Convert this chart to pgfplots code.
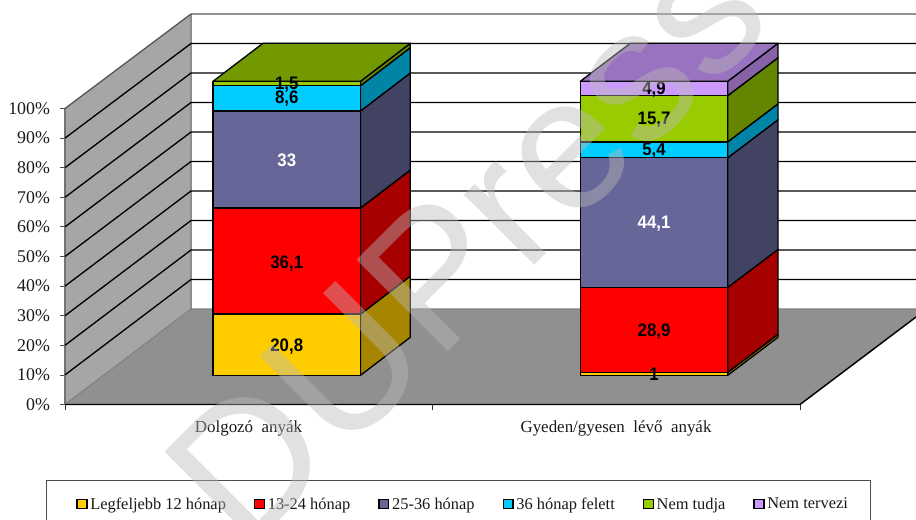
\documentclass[border=0pt]{standalone}
\usepackage{fontspec}
\setmainfont{Liberation Serif}
\newfontfamily\lsans{Liberation Sans}
\usepackage{pgfplots}
\pgfplotsset{compat=1.18}
\definecolor{yel}{HTML}{FFCC00}\definecolor{yelS}{HTML}{A68500}
\definecolor{red1}{HTML}{FF0000}\definecolor{redS}{HTML}{A60000}
\definecolor{pur}{HTML}{666699}\definecolor{purS}{HTML}{424263}
\definecolor{cya}{HTML}{00CCFF}\definecolor{cyaS}{HTML}{0085A6}
\definecolor{gre}{HTML}{99CC00}\definecolor{greS}{HTML}{638500}\definecolor{greT}{HTML}{739900}
\definecolor{lil}{HTML}{CC99FF}\definecolor{lilS}{HTML}{8563A6}\definecolor{lilT}{HTML}{9973BF}
\definecolor{wall}{HTML}{A6A6A6}\definecolor{flr}{HTML}{909090}
\pgfplotsset{base/.style={x=0.75pt,y=2.205pt,xmin=65,xmax=916,ymin=-9.93,ymax=127.65,
  enlargelimits=false,clip=false,at={(48.75pt,85.875pt)},anchor=south west}}
\newcommand{\face}[2]{\addplot[fill=#1,draw=black,line width=1pt,line join=round] coordinates {#2} -- cycle;}
\newcommand{\dlabel}[4][black]{\node[font=\lsans\bfseries\fontsize{12.6}{14}\selectfont,text=#1,inner sep=0pt,yscale=1.08] at (axis cs:#2,#3) {#4};}
\begin{document}
\begin{tikzpicture}
\useasboundingbox (0,0) rectangle (687pt,389.25pt);
\begin{axis}[base,
  axis line style={draw=none},tick pos=left,tick align=outside,
  ytick={-9.93,0.14,10.21,20.27,30.34,40.41,50.48,60.55,70.61,80.68,90.75},
  yticklabels={0\%,10\%,20\%,30\%,40\%,50\%,60\%,70\%,80\%,90\%,100\%},
  xtick={248.5,616},xticklabels={Dolgozó\ \ anyák,Gyeden/gyesen\ \ lévő\ \ anyák},
  minor xtick={65,432,800},
  major tick length=3.75pt,minor tick length=3.75pt,
  major x tick style={draw=none},minor x tick style={black!80,line width=0.6pt},
  ytick style={black!70,line width=0.6pt},
  tick label style={text=black!90},
  yticklabel style={font=\fontsize{13.4}{15}\selectfont,xshift=-4pt},
  xticklabel style={font=\fontsize{12.7}{15}\selectfont,yshift=-4.8pt},
]
% wall, floor
\addplot[fill=wall,draw=none] coordinates {(65,-9.93)(191,22.55)(191,122.89)(65,90.75)} -- cycle;
\addplot[fill=flr,draw=none] coordinates {(65,-9.93)(800,-9.93)(916,19.83)(916,22.55)(191,22.55)} -- cycle;
\addplot[black!55,line width=0.8pt] coordinates {(65,-9.93)(65,90.75)};
\addplot[black!45,line width=0.8pt] coordinates {(191,22.55)(191,122.89)};
\addplot[black!50,line width=0.8pt] coordinates {(65,-9.93)(191,22.55)(916,22.55)};
\addplot[black!65,line width=1pt] coordinates {(65,90.75)(191,122.89)(916,122.89)};
\addplot[black,line width=1.1pt] coordinates {(65,-9.93)(800,-9.93)(916,19.83)};
% grid lines
\addplot[black,line width=1pt] coordinates {(65,0.14)(191,32.58)(916,32.58)};
\addplot[black,line width=1pt] coordinates {(65,10.21)(191,42.62)(916,42.62)};
\addplot[black,line width=1pt] coordinates {(65,20.27)(191,52.65)(916,52.65)};
\addplot[black,line width=1pt] coordinates {(65,30.34)(191,62.69)(916,62.69)};
\addplot[black,line width=1pt] coordinates {(65,40.41)(191,72.72)(916,72.72)};
\addplot[black,line width=1pt] coordinates {(65,50.48)(191,82.75)(916,82.75)};
\addplot[black,line width=1pt] coordinates {(65,60.55)(191,92.79)(916,92.79)};
\addplot[black,line width=1pt] coordinates {(65,70.61)(191,102.82)(916,102.82)};
\addplot[black,line width=1pt] coordinates {(65,80.68)(191,112.86)(916,112.86)};
% bar 1 sides and top
\face{yelS}{(360.5,0)(410.3,12.93)(410.3,33.73)(360.5,20.8)}
\face{redS}{(360.5,20.8)(410.3,33.73)(410.3,69.83)(360.5,56.9)}
\face{purS}{(360.5,56.9)(410.3,69.83)(410.3,102.83)(360.5,89.9)}
\face{cyaS}{(360.5,89.9)(410.3,102.83)(410.3,111.43)(360.5,98.5)}
\face{greS}{(360.5,98.5)(410.3,111.43)(410.3,112.93)(360.5,100)}
\face{greT}{(213,100)(360.5,100)(410.3,112.93)(263,112.93)}
% bar 2 sides and top
\face{yelS}{(727.7,0)(778,12.93)(778,13.93)(727.7,1)}
\face{redS}{(727.7,1)(778,13.93)(778,42.83)(727.7,29.9)}
\face{purS}{(727.7,29.9)(778,42.83)(778,86.93)(727.7,74)}
\face{cyaS}{(727.7,74)(778,86.93)(778,92.33)(727.7,79.4)}
\face{greS}{(727.7,79.4)(778,92.33)(778,108.03)(727.7,95.1)}
\face{lilS}{(727.7,95.1)(778,108.03)(778,112.93)(727.7,100)}
\face{lilT}{(580.3,100)(727.7,100)(778,112.93)(630.3,112.93)}
\end{axis}
\begin{axis}[base,hide axis,
  ybar stacked,bar width=110.55pt,
  legend columns=6,
  legend style={at={(-0.02233,-0.18665)},anchor=north west,draw=black!70,line width=0.6pt,
    font=\fontsize{12.3}{15}\selectfont,text=black!90,inner xsep=22.5pt,inner ysep=11pt,
    /tikz/every even column/.append style={column sep=19pt}},
  legend cell align=left,
  legend image code/.code={\draw[#1,draw=black,line width=1pt] (0pt,-3.2pt) rectangle (7.4pt,3.8pt);},
]
\addplot[fill=yel,draw=black,line width=1pt] coordinates {(286.75,20.8)(654,1)};
\addplot[fill=red1,draw=black,line width=1pt] coordinates {(286.75,36.1)(654,28.9)};
\addplot[fill=pur,draw=black,line width=1pt] coordinates {(286.75,33)(654,44.1)};
\addplot[fill=cya,draw=black,line width=1pt] coordinates {(286.75,8.6)(654,5.4)};
\addplot[fill=gre,draw=black,line width=1pt] coordinates {(286.75,1.5)(654,15.7)};
\addplot[fill=lil,draw=black,line width=1pt] coordinates {(286.75,0)(654,4.9)};
\legend{Legfeljebb 12 hónap,13-24 hónap,25-36 hónap,36 hónap felett,Nem tudja,\makebox[52.5pt][l]{Nem tervezi}}
\end{axis}
\begin{axis}[base,hide axis]
\dlabel{286.75}{9.8}{20,8}
\dlabel{286.75}{38}{36,1}
\dlabel[white]{286.75}{73.2}{33}
\dlabel{286.75}{94}{8,6}
\dlabel{286.75}{99}{1,5}
\dlabel{654}{0.2}{1}
\dlabel{654}{15}{28,9}
\dlabel[white]{654}{51.6}{44,1}
\dlabel{654}{76.4}{5,4}
\dlabel{654}{87.1}{15,7}
\dlabel{654}{97.1}{4,9}
\end{axis}
\node[rotate=45,anchor=base west,inner sep=0pt,opacity=0.43,text=black!27,
  font=\lsans\fontsize{141}{141}\selectfont] at (183.75pt,-27pt) {DUPress};
\end{tikzpicture}
\end{document}
